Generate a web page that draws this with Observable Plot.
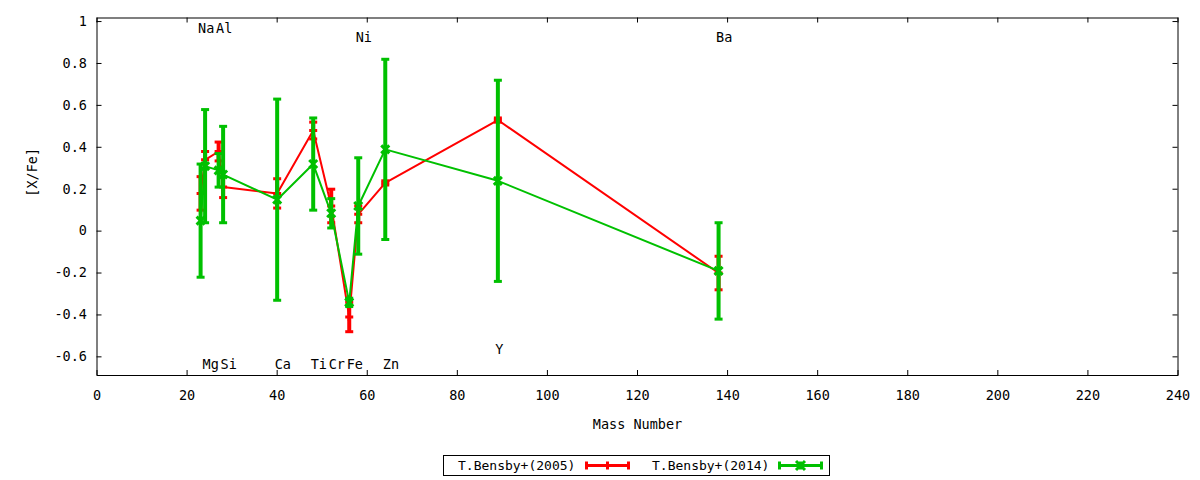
<!DOCTYPE html>
<html>
<head>
<meta charset="utf-8">
<script src="https://cdn.jsdelivr.net/npm/d3@7"></script>
<script src="https://cdn.jsdelivr.net/npm/@observablehq/plot@0.6"></script>
<style>
  body { margin: 0; background: white; }
  #wrap { position: relative; width: 1200px; height: 480px; background: white; font-family: "DejaVu Sans Mono", monospace; }
  #legend { position: absolute; left: 443px; top: 455px; width: 385px; height: 19px; border: 1px solid black; font-size: 13px; line-height: 19px; color: black; }
  #legend span { position: absolute; top: 0; }
</style>
</head>
<body>
<div id="wrap"></div>
<script>
// ---- data ----
const elements = ["Na","Mg","Al","Si","Ca","Ti","Cr","Fe","Ni","Zn","Y","Ba"];
const massNumber = [23,24,27,28,40,48,52,56,58,64,89,138];
const bensby2005 = [0.18,0.34,0.38,0.21,0.18,0.48,0.12,-0.41,0.08,0.23,0.53,-0.20];
const bensby2005Err = [0.08,0.04,0.045,0.05,0.07,0.04,0.08,0.07,0.04,0.01,0.01,0.08];
const bensby2014 = [0.05,0.31,0.29,0.27,0.15,0.32,0.085,-0.34,0.12,0.39,0.24,-0.19];
const bensby2014Err = [0.27,0.27,0.08,0.23,0.48,0.22,0.07,0.02,0.23,0.43,0.48,0.23];
const labelY = [0.965,-0.635,0.965,-0.635,-0.635,-0.635,-0.635,-0.635,0.922,-0.635,-0.567,0.922];
const xTicks = [0,20,40,60,80,100,120,140,160,180,200,220,240];
const yTicks = [-0.6,-0.4,-0.2,0,0.2,0.4,0.6,0.8,1];
const yTickLabels = ["-0.6","-0.4","-0.2","0","0.2","0.4","0.6","0.8","1"];
const seriesNames = ["T.Bensby+(2005)","T.Bensby+(2014)"];
const RED = "#ff0000", GREEN = "#00c000";

const rows = massNumber.map((m, i) => ({
  mass: m, el: elements[i], ly: labelY[i],
  r: bensby2005[i], rlo: bensby2005[i] - bensby2005Err[i], rhi: bensby2005[i] + bensby2005Err[i],
  g: bensby2014[i], glo: bensby2014[i] - bensby2014Err[i], ghi: bensby2014[i] + bensby2014Err[i]
}));

// custom symbols (half-size = r)
const half = s => Math.sqrt(s / Math.PI);
const hbar = {draw(c, s) { const r = half(s); c.moveTo(-r, 0); c.lineTo(r, 0); }};
const plus = {draw(c, s) { const r = half(s); c.moveTo(-r, 0); c.lineTo(r, 0); c.moveTo(0, -r); c.lineTo(0, r); }};
const cross = {draw(c, s) { const r = half(s); c.moveTo(-r, -r); c.lineTo(r, r); c.moveTo(-r, r); c.lineTo(r, -r); }};

const W = 1200, H = 445, mL = 96.5, mR = 22.5, mT = 17.5, mB = 70;
const plotH = H - mT - mB, plotW = W - mL - mR;

function series(key, lo, hi, color, marker, mr) {
  return [
    Plot.line(rows, {x: "mass", y: key, stroke: color, strokeWidth: 2}),
    Plot.ruleX(rows, {x: "mass", y1: lo, y2: hi, stroke: color, strokeWidth: 4}),
    Plot.dot(rows, {x: "mass", y: lo, symbol: hbar, r: 4, fill: "none", stroke: color, strokeWidth: 3}),
    Plot.dot(rows, {x: "mass", y: hi, symbol: hbar, r: 4, fill: "none", stroke: color, strokeWidth: 3}),
    Plot.dot(rows, {x: "mass", y: key, symbol: marker, r: mr, fill: "none", stroke: color, strokeWidth: 3})
  ];
}

const chart = Plot.plot({
  width: W, height: H,
  marginLeft: mL, marginRight: mR, marginTop: mT, marginBottom: mB,
  style: {fontFamily: "DejaVu Sans Mono", fontSize: "13.5px", background: "white", color: "black"},
  x: {domain: [0, 240]},
  y: {domain: [-0.689, 1.017]},
  marks: [
    Plot.axisX({ticks: xTicks, tickSize: 0, tickPadding: 15, label: null, tickFormat: d => String(d)}),
    Plot.axisY({ticks: yTicks, tickSize: 0, tickPadding: 10, label: null, tickFormat: (d, i) => yTickLabels[i]}),
    // inward ticks on all four sides
    Plot.tickX(xTicks, {x: d => d, insetTop: plotH - 5, stroke: "black"}),
    Plot.tickX(xTicks, {x: d => d, insetBottom: plotH - 5, stroke: "black"}),
    Plot.tickY(yTicks, {y: d => d, insetRight: plotW - 5, stroke: "black"}),
    Plot.tickY(yTicks, {y: d => d, insetLeft: plotW - 5, stroke: "black"}),
    Plot.text(rows, {x: "mass", y: "ly", text: "el", textAnchor: "start", dx: -2.5, fill: "black"}),
    ...series("r", "rlo", "rhi", RED, plus, 4),
    ...series("g", "glo", "ghi", GREEN, cross, 4),
    Plot.frame({stroke: "black", strokeWidth: 1}),
    Plot.text(["[X/Fe]"], {frameAnchor: "left", dx: -64, rotate: -90, text: d => d, fill: "black"}),
    Plot.text(["Mass Number"], {frameAnchor: "bottom", dy: 53, text: d => d, fill: "black"})
  ]
});

const wrap = document.getElementById("wrap");
wrap.appendChild(chart);

// legend
function sample(color, withCross) {
  let s = `<svg width="45" height="19" viewBox="0 0 45 19">` +
    `<line x1="0" y1="9.5" x2="45" y2="9.5" stroke="${color}" stroke-width="3"/>` +
    `<line x1="1.5" y1="5.5" x2="1.5" y2="13.5" stroke="${color}" stroke-width="3"/>` +
    `<line x1="43.5" y1="5.5" x2="43.5" y2="13.5" stroke="${color}" stroke-width="3"/>` +
    `<line x1="22.5" y1="5.5" x2="22.5" y2="13.5" stroke="${color}" stroke-width="3"/>`;
  if (withCross) s += `<path d="M18,5L27,14M18,14L27,5" stroke="${color}" stroke-width="3" fill="none"/>`;
  return s + `</svg>`;
}
const legend = document.createElement("div");
legend.id = "legend";
legend.innerHTML =
  `<span style="left:14px">${seriesNames[0]}</span>` +
  `<div style="position:absolute;left:141px;top:0">${sample(RED, false)}</div>` +
  `<span style="left:208px">${seriesNames[1]}</span>` +
  `<div style="position:absolute;left:334px;top:0">${sample(GREEN, true)}</div>`;
wrap.appendChild(legend);
</script>
</body>
</html>
